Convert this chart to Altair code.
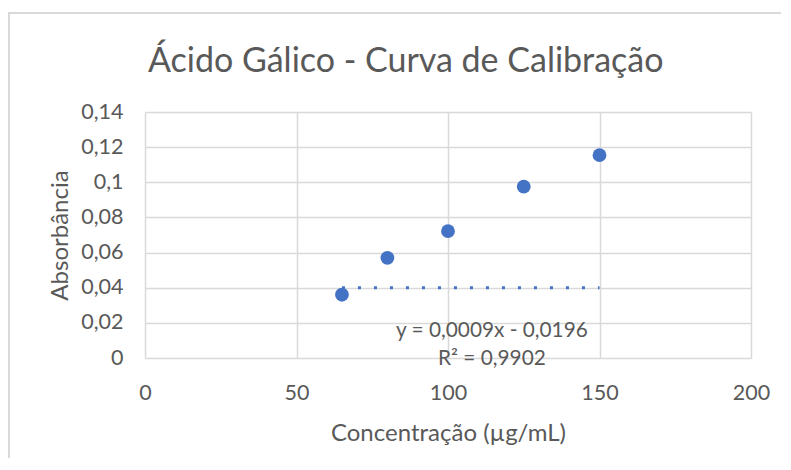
import altair as alt
import pandas as pd

# data
conc = [65, 80, 100, 125, 150]
absorb = [0.036, 0.057, 0.0722, 0.0975, 0.1154]

trend_x = [65, 150]
trend_y = [0.04, 0.04]

eq_labels = ["y = 0,0009x - 0,0196", "R² = 0,9902"]
eq_x = [114.5, 114.5]
eq_y = [0.0154, -0.0004]

title_text = ["Ácido Gálico - Curva de Calibração"]

x_ticks = [0, 50, 100, 150, 200]
y_ticks = [0, 0.02, 0.04, 0.06, 0.08, 0.1, 0.12, 0.14]

pts = pd.DataFrame({"x": conc, "y": absorb})
trend = pd.DataFrame({"x": trend_x, "y": trend_y})
eq = pd.DataFrame({"x": eq_x, "y": eq_y, "t": eq_labels})
ttl = pd.DataFrame({"t": title_text})

FONT = "Lato"
TXT = "#595959"
BLUE = "#4472C4"
GRID = "#d9d9d9"
W, H = 606, 246

xs = alt.Scale(domain=[0, 200], nice=False, zero=False)
ys = alt.Scale(domain=[0, 0.14], nice=False)

xax = alt.Axis(values=x_ticks, tickCount=5, grid=True, domain=False, ticks=False,
               labelPadding=24, labelFlush=False, labelOverlap=False,
               title="Concentração (µg/mL)", titlePadding=18)
yax = alt.Axis(values=y_ticks, tickCount=8, grid=True, domain=False, ticks=False,
               labelPadding=22, labelFlush=False, labelOverlap=False,
               title="Absorbância", titlePadding=8,
               labelExpr="replace(format(datum.value, '.2~f'), '.', ',')")

base_x = alt.X("x:Q", scale=xs, axis=xax)
base_y = alt.Y("y:Q", scale=ys, axis=yax)

line = alt.Chart(trend).mark_line(color=BLUE, strokeWidth=3, strokeDash=[3, 13],
                                  strokeCap="butt").encode(x=base_x, y=base_y)
points = alt.Chart(pts).mark_circle(color=BLUE, size=190, opacity=1).encode(
    x=base_x, y=base_y)
text = alt.Chart(eq).mark_text(font=FONT, fontSize=20.8, color=TXT, align="center",
                               baseline="middle").encode(
    x=base_x, y=base_y, text="t:N")

title = alt.Chart(ttl).mark_text(font=FONT, fontSize=34, color=TXT, align="left",
                                 baseline="alphabetic").encode(
    x=alt.value(3), y=alt.value(-40), text="t:N")

frame_top = alt.Chart(ttl).mark_rule(color=GRID, strokeWidth=2).encode(
    x=alt.value(-137), x2=alt.value(W + 40), y=alt.value(-99))
frame_left = alt.Chart(ttl).mark_rule(color=GRID, strokeWidth=2).encode(
    x=alt.value(-136), y=alt.value(-100), y2=alt.value(H + 110))

chart = alt.layer(line, points, text, title, frame_top, frame_left).properties(
    width=W, height=H,
    padding={"left": 137, "top": 104, "right": 30, "bottom": 100},
    autosize=alt.AutoSizeParams(type="none"),
).configure_axis(
    labelFont=FONT, titleFont=FONT, labelFontSize=21.5, titleFontSize=24,
    labelColor=TXT, titleColor=TXT, titleFontWeight="normal",
    gridColor=GRID, gridWidth=1.5,
).configure_view(stroke=None)

chart.save("out.html", embed_options={"renderer": "svg", "actions": False})
